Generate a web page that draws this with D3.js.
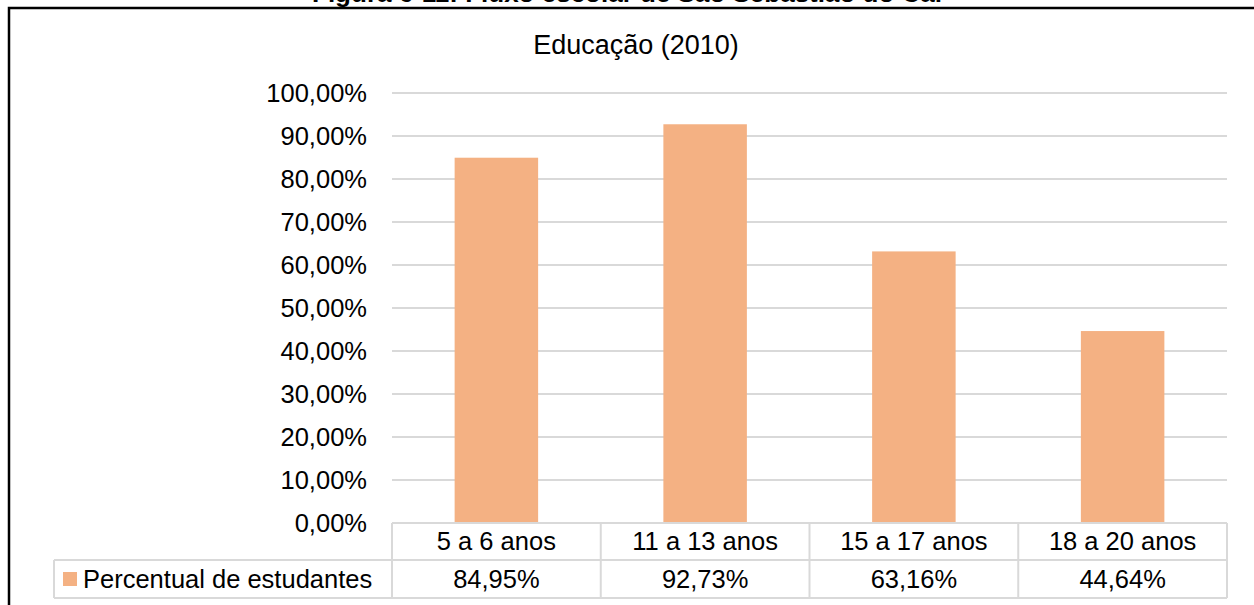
<!DOCTYPE html>
<html><head><meta charset="utf-8">
<script src="https://cdn.jsdelivr.net/npm/d3@7"></script>
<style>html,body{margin:0;padding:0;background:#fff;overflow:hidden}</style>
</head><body>
<svg id="c" width="1254" height="605"></svg>
<script>
const categories = ["5 a 6 anos", "11 a 13 anos", "15 a 17 anos", "18 a 20 anos"];
const values = [0.8495, 0.9273, 0.6316, 0.4464];
const valueLabels = ["84,95%", "92,73%", "63,16%", "44,64%"];
const yTicks = [0, 0.1, 0.2, 0.3, 0.4, 0.5, 0.6, 0.7, 0.8, 0.9, 1.0];
const seriesName = "Percentual de estudantes";
const chartTitle = "Educação (2010)";
const figTitle = "Figura 6-11: Fluxo escolar de São Sebastião do Caí";

const svg = d3.select("#c");
const font = "'Liberation Sans', Arial, sans-serif";
const fs = 25.5;
const gridColor = "#d9d9d9";
const barColor = "#F4B183";

const L = 392, R = 1227, T = 93, B = 523;
const row1 = 560, row2 = 598, legendLeft = 54;

const x = d3.scaleBand().domain(categories).range([L, R]).paddingInner(0.6).paddingOuter(0.3);
const xCell = d3.scaleBand().domain(categories).range([L, R]).padding(0);
const y = d3.scaleLinear().domain([0, 1]).range([B, T]);
const fmt = v => d3.format(".2f")(v * 100).replace(".", ",") + "%";

// figure caption (clipped at top, as in the source)
svg.append("text").attr("x", 627).attr("y", 2).attr("text-anchor", "middle")
  .attr("font-family", font).attr("font-weight", "bold").attr("font-size", 26).attr("fill", "#000")
  .text(figTitle);

// frame
svg.append("rect").attr("x", 9).attr("y", 8).attr("width", 1400).attr("height", 800)
  .attr("fill", "none").attr("stroke", "#000").attr("stroke-width", 2.5);

// chart title
svg.append("text").attr("x", 636).attr("y", 54).attr("text-anchor", "middle")
  .attr("font-family", font).attr("font-size", 27).attr("fill", "#000").text(chartTitle);

// gridlines
svg.append("g").selectAll("line").data(yTicks.filter(d => d > 0)).join("line")
  .attr("x1", L).attr("x2", R).attr("y1", d => y(d)).attr("y2", d => y(d))
  .attr("stroke", gridColor).attr("stroke-width", 2);

// y axis labels
const yAxis = d3.axisLeft(y).tickValues(yTicks).tickFormat(fmt).tickSize(0).tickPadding(25);
const ga = svg.append("g").attr("transform", `translate(${L},0)`).call(yAxis);
ga.select(".domain").remove();
ga.selectAll("text").attr("font-family", font).attr("font-size", fs).attr("fill", "#000");

// bars
svg.append("g").selectAll("rect").data(values).join("rect")
  .attr("x", (d, i) => x(categories[i])).attr("width", x.bandwidth())
  .attr("y", d => y(d)).attr("height", d => y(0) - y(d)).attr("fill", barColor);

// data table
const tg = svg.append("g").attr("stroke", gridColor).attr("stroke-width", 2);
tg.append("line").attr("x1", L).attr("x2", R).attr("y1", B).attr("y2", B);
tg.append("line").attr("x1", legendLeft).attr("x2", R).attr("y1", row1).attr("y2", row1);
tg.append("line").attr("x1", legendLeft).attr("x2", R).attr("y1", row2).attr("y2", row2);
tg.append("line").attr("x1", legendLeft).attr("x2", legendLeft).attr("y1", row1).attr("y2", row2);
const bounds = categories.map(c => xCell(c)).concat([R]);
tg.selectAll("line.v").data(bounds).join("line").attr("class", "v")
  .attr("x1", d => d).attr("x2", d => d).attr("y1", B).attr("y2", row2);

svg.append("g").selectAll("text").data(categories).join("text")
  .attr("x", d => xCell(d) + xCell.bandwidth() / 2).attr("y", (B + row1) / 2)
  .attr("dy", "0.35em").attr("text-anchor", "middle")
  .attr("font-family", font).attr("font-size", fs).attr("fill", "#000").text(d => d);

svg.append("g").selectAll("text").data(valueLabels).join("text")
  .attr("x", (d, i) => xCell(categories[i]) + xCell.bandwidth() / 2).attr("y", (row1 + row2) / 2)
  .attr("dy", "0.35em").attr("text-anchor", "middle")
  .attr("font-family", font).attr("font-size", fs).attr("fill", "#000").text(d => d);

// legend key
svg.append("rect").attr("x", 63).attr("y", 572).attr("width", 14).attr("height", 14).attr("fill", barColor);
svg.append("text").attr("x", 83).attr("y", (row1 + row2) / 2).attr("dy", "0.35em")
  .attr("font-family", font).attr("font-size", fs).attr("fill", "#000").text(seriesName);
</script>
</body></html>
